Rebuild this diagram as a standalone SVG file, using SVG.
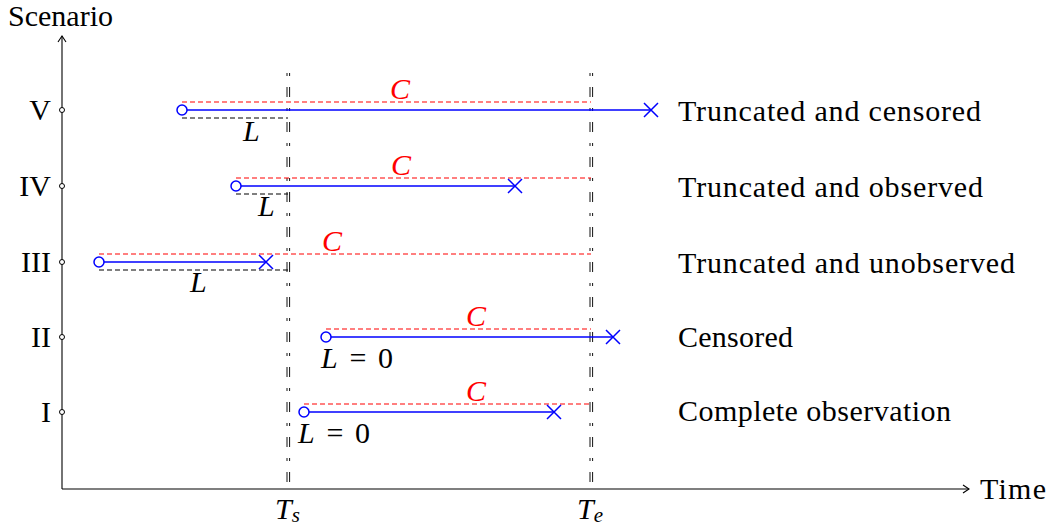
<svg xmlns="http://www.w3.org/2000/svg" width="1050" height="526" viewBox="0 0 1050 526">
<style>
text{font-family:"Liberation Serif","Times New Roman",serif;font-size:30px;fill:#000}
.it{font-style:italic}
.red{fill:#ff0000}
.blue{stroke:#0000ff;stroke-width:1.5;fill:none}
.rd{stroke:#ff0000;stroke-width:1.1;stroke-dasharray:5 3;fill:none}
.bd{stroke:#000;stroke-width:1.1;stroke-dasharray:5 3;fill:none}
.ax{stroke:#000;stroke-width:1.1;fill:none}
.vl{stroke:#111;stroke-width:1;stroke-dasharray:3 11 10 11;fill:none}
.tick{fill:#fff;stroke:#000;stroke-width:1}
</style>
<rect width="1050" height="526" fill="#fff"/>
<g id="axes">
<line class="ax" x1="62" y1="489" x2="62" y2="36"/>
<path class="ax" d="M58 42 L62 36 L66 42"/>
<line class="ax" x1="62" y1="489" x2="969" y2="489"/>
<path class="ax" d="M963 485 L969 489 L963 493"/>
<text x="8" y="26" textLength="105">Scenario</text>
<text x="980" y="499" textLength="66">Time</text>
<circle class="tick" cx="62" cy="110" r="2.5"/>
<circle class="tick" cx="62" cy="186" r="2.5"/>
<circle class="tick" cx="62" cy="262" r="2.5"/>
<circle class="tick" cx="62" cy="337" r="2.5"/>
<circle class="tick" cx="62" cy="412" r="2.5"/>
<text x="51" y="120" text-anchor="end">V</text>
<text x="51" y="196" text-anchor="end">IV</text>
<text x="51" y="272" text-anchor="end">III</text>
<text x="51" y="347" text-anchor="end">II</text>
<text x="51" y="422" text-anchor="end">I</text>
</g>
<g id="bounds">
<line class="vl" x1="287" y1="73" x2="287" y2="489"/>
<line class="vl" x1="289.6" y1="73" x2="289.6" y2="489"/>
<line class="vl" x1="590" y1="73" x2="590" y2="489"/>
<line class="vl" x1="592.6" y1="73" x2="592.6" y2="489"/>
<text class="it" x="275" y="519">T<tspan font-size="21" dy="3">s</tspan></text>
<text class="it" x="577" y="519">T<tspan font-size="21" dy="3">e</tspan></text>
</g>
<g id="row5">
<line class="rd" x1="182" y1="102" x2="591" y2="102"/>
<line class="bd" x1="182" y1="118" x2="288" y2="118"/>
<line class="blue" x1="187" y1="110" x2="651" y2="110"/>
<circle class="blue" cx="182" cy="110" r="5"/>
<path class="blue" d="M644 103 L658 117 M644 117 L658 103"/>
<text class="it red" x="390" y="99">C</text>
<text class="it" x="243" y="141">L</text>
<text x="678" y="121" textLength="303">Truncated and censored</text>
</g>
<g id="row4">
<line class="rd" x1="236" y1="178" x2="591" y2="178"/>
<line class="bd" x1="236" y1="194" x2="288" y2="194"/>
<line class="blue" x1="241" y1="186" x2="515" y2="186"/>
<circle class="blue" cx="236" cy="186" r="5"/>
<path class="blue" d="M508 179 L522 193 M508 193 L522 179"/>
<text class="it red" x="391" y="175">C</text>
<text class="it" x="258" y="216">L</text>
<text x="678" y="197" textLength="305">Truncated and observed</text>
</g>
<g id="row3">
<line class="rd" x1="99" y1="254" x2="591" y2="254"/>
<line class="bd" x1="99" y1="270" x2="288" y2="270"/>
<line class="blue" x1="104" y1="262" x2="266" y2="262"/>
<circle class="blue" cx="99" cy="262" r="5"/>
<path class="blue" d="M259 255 L273 269 M259 269 L273 255"/>
<text class="it red" x="322" y="251">C</text>
<text class="it" x="190" y="292">L</text>
<text x="678" y="273" textLength="337">Truncated and unobserved</text>
</g>
<g id="row2">
<line class="rd" x1="326" y1="329" x2="591" y2="329"/>
<line class="blue" x1="331" y1="337" x2="613" y2="337"/>
<circle class="blue" cx="326" cy="337" r="5"/>
<path class="blue" d="M606 330 L620 344 M606 344 L620 330"/>
<text class="it red" x="466" y="326">C</text>
<text x="321" y="368" textLength="72"><tspan class="it">L</tspan> = 0</text>
<text x="678" y="347" textLength="115">Censored</text>
</g>
<g id="row1">
<line class="rd" x1="304" y1="404" x2="591" y2="404"/>
<line class="blue" x1="309" y1="412" x2="554" y2="412"/>
<circle class="blue" cx="304" cy="412" r="5"/>
<path class="blue" d="M547 405 L561 419 M547 419 L561 405"/>
<text class="it red" x="466" y="401">C</text>
<text x="298" y="443" textLength="72"><tspan class="it">L</tspan> = 0</text>
<text x="678" y="421" textLength="273">Complete observation</text>
</g>
</svg>
